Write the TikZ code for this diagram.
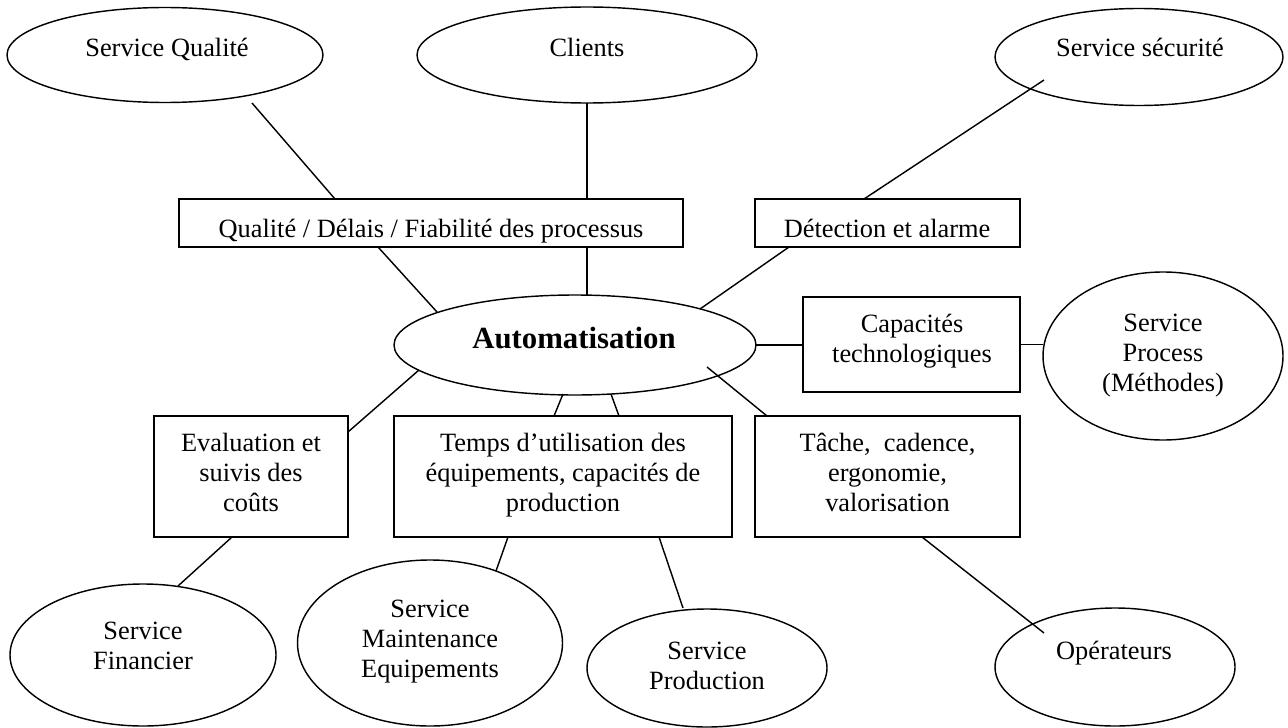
\documentclass[tikz,border=0pt]{standalone}
\usepackage{fontspec}
\setmainfont{Liberation Serif}
\usetikzlibrary{shapes.geometric,calc}
\begin{document}
\begin{tikzpicture}[x=0.455pt,y=-0.455pt,
  line width=0.65pt,
  every node/.style={inner sep=0pt,outer sep=0pt},
  dims/.style 2 args={minimum width=#1*0.455pt,minimum height=#2*0.455pt},
  oval/.style={draw,ellipse},
  box/.style={draw,rectangle},
  lbl/.style={font=\fontsize{12}{13.65}\selectfont,align=center,anchor=base}]
\useasboundingbox (0,0) rectangle (1288,727);

% ellipses
\node[oval,dims={316}{95}]  (sq)   at (165,55)  {};
\node[oval,dims={340}{96}]  (cl)   at (587,55)  {};
\node[oval,dims={288}{97}]  (ss)   at (1139,57) {};
\node[oval,dims={362}{100}] (auto) at (575,345) {};
\node[oval,dims={240}{168}] (sp)   at (1163,356) {};
\node[oval,dims={266}{142}] (sf)   at (143,655) {};
\node[oval,dims={265}{166}] (sm)   at (430,643) {};
\node[oval,dims={240}{118}] (spr)  at (707,668) {};
\node[oval,dims={240}{118}] (op)   at (1115,667) {};

% boxes
\node[box,dims={504}{48}]  (qual)  at (431,223)   {};
\node[box,dims={265}{48}]  (det)   at (887.5,223) {};
\node[box,dims={217}{95}]  (cap)   at (911.5,344.5) {};
\node[box,dims={194}{121}] (eval)  at (251,476.5) {};
\node[box,dims={338}{121}] (temps) at (563,476.5) {};
\node[box,dims={265}{121}] (tache) at (887.5,476.5) {};

% texts (anchor = baseline of the last line)
\node[lbl] (sqt) at (167,57) {Service Qualité};
\node[lbl] (clt) at (587,57) {Clients};
\node[lbl] (sst) at (1140,57) {Service sécurité};
\node[lbl] (qualt) at (431,237) {Qualité / Délais / Fiabilité des processus};
\node[lbl] (dett) at (887,237) {Détection et alarme};
\node[lbl,font=\fontsize{14}{16}\selectfont\bfseries] (autot) at (574,348) {Automatisation};
\node[lbl] (capt) at (912,362) {Capacités\\technologiques};
\node[lbl] (spt) at (1163,391) {Service\\Process\\(Méthodes)};
\node[lbl] (evalt) at (251,511) {Evaluation et\\suivis des\\coûts};
\node[lbl] (tempst) at (563,511) {Temps d’utilisation des\\équipements, capacités de\\production};
\node[lbl] (tachet) at (887.5,511) {Tâche,~ cadence,\\ergonomie,\\valorisation};
\node[lbl] (sft) at (143,669) {Service\\Financier};
\node[lbl] (smt) at (430,677) {Service\\Maintenance\\Equipements};
\node[lbl] (sprt) at (707,689) {Service\\Production};
\node[lbl] (opt) at (1114,659) {Opérateurs};

% connectors
\draw ($(sq)+(87,48)$) -- ($(qual.north)+(-96,0)$);
\draw (cl.south) -- (cl.south |- qual.north);
\draw ($(ss)+(-95,23)$) -- ($(det.north)+(-23.5,0)$);
\draw ($(qual.south)+(-53,0)$) -- ($(auto)+(-138,-33)$);
\draw ($(qual.south)+(156,0)$) -- ($(auto)+(12,-50)$);
\draw ($(det.south)+(-98.5,0)$) -- ($(auto)+(125,-36)$);
\draw (auto.east) -- (auto.east -| cap.west);
\draw (cap.east) -- (cap.east -| sp.west);
\draw ($(auto)+(-156,25)$) -- ($(eval.north east)+(0,16)$);
\draw ($(auto)+(-12,49)$) -- ($(temps.north)+(-9,0)$);
\draw ($(auto)+(36,49)$) -- ($(temps.north)+(56,0)$);
\draw ($(auto)+(132,22)$) -- ($(tache.north)+(-120.5,0)$);
\draw ($(eval.south)+(-19,0)$) -- ($(sf)+(35,-69)$);
\draw ($(temps.south)+(-55,0)$) -- ($(sm)+(66,-72)$);
\draw ($(temps.south)+(96,0)$) -- ($(spr)+(-24,-60)$);
\draw ($(tache.south)+(34.5,0)$) -- ($(op)+(-71,-34)$);
\end{tikzpicture}
\end{document}
